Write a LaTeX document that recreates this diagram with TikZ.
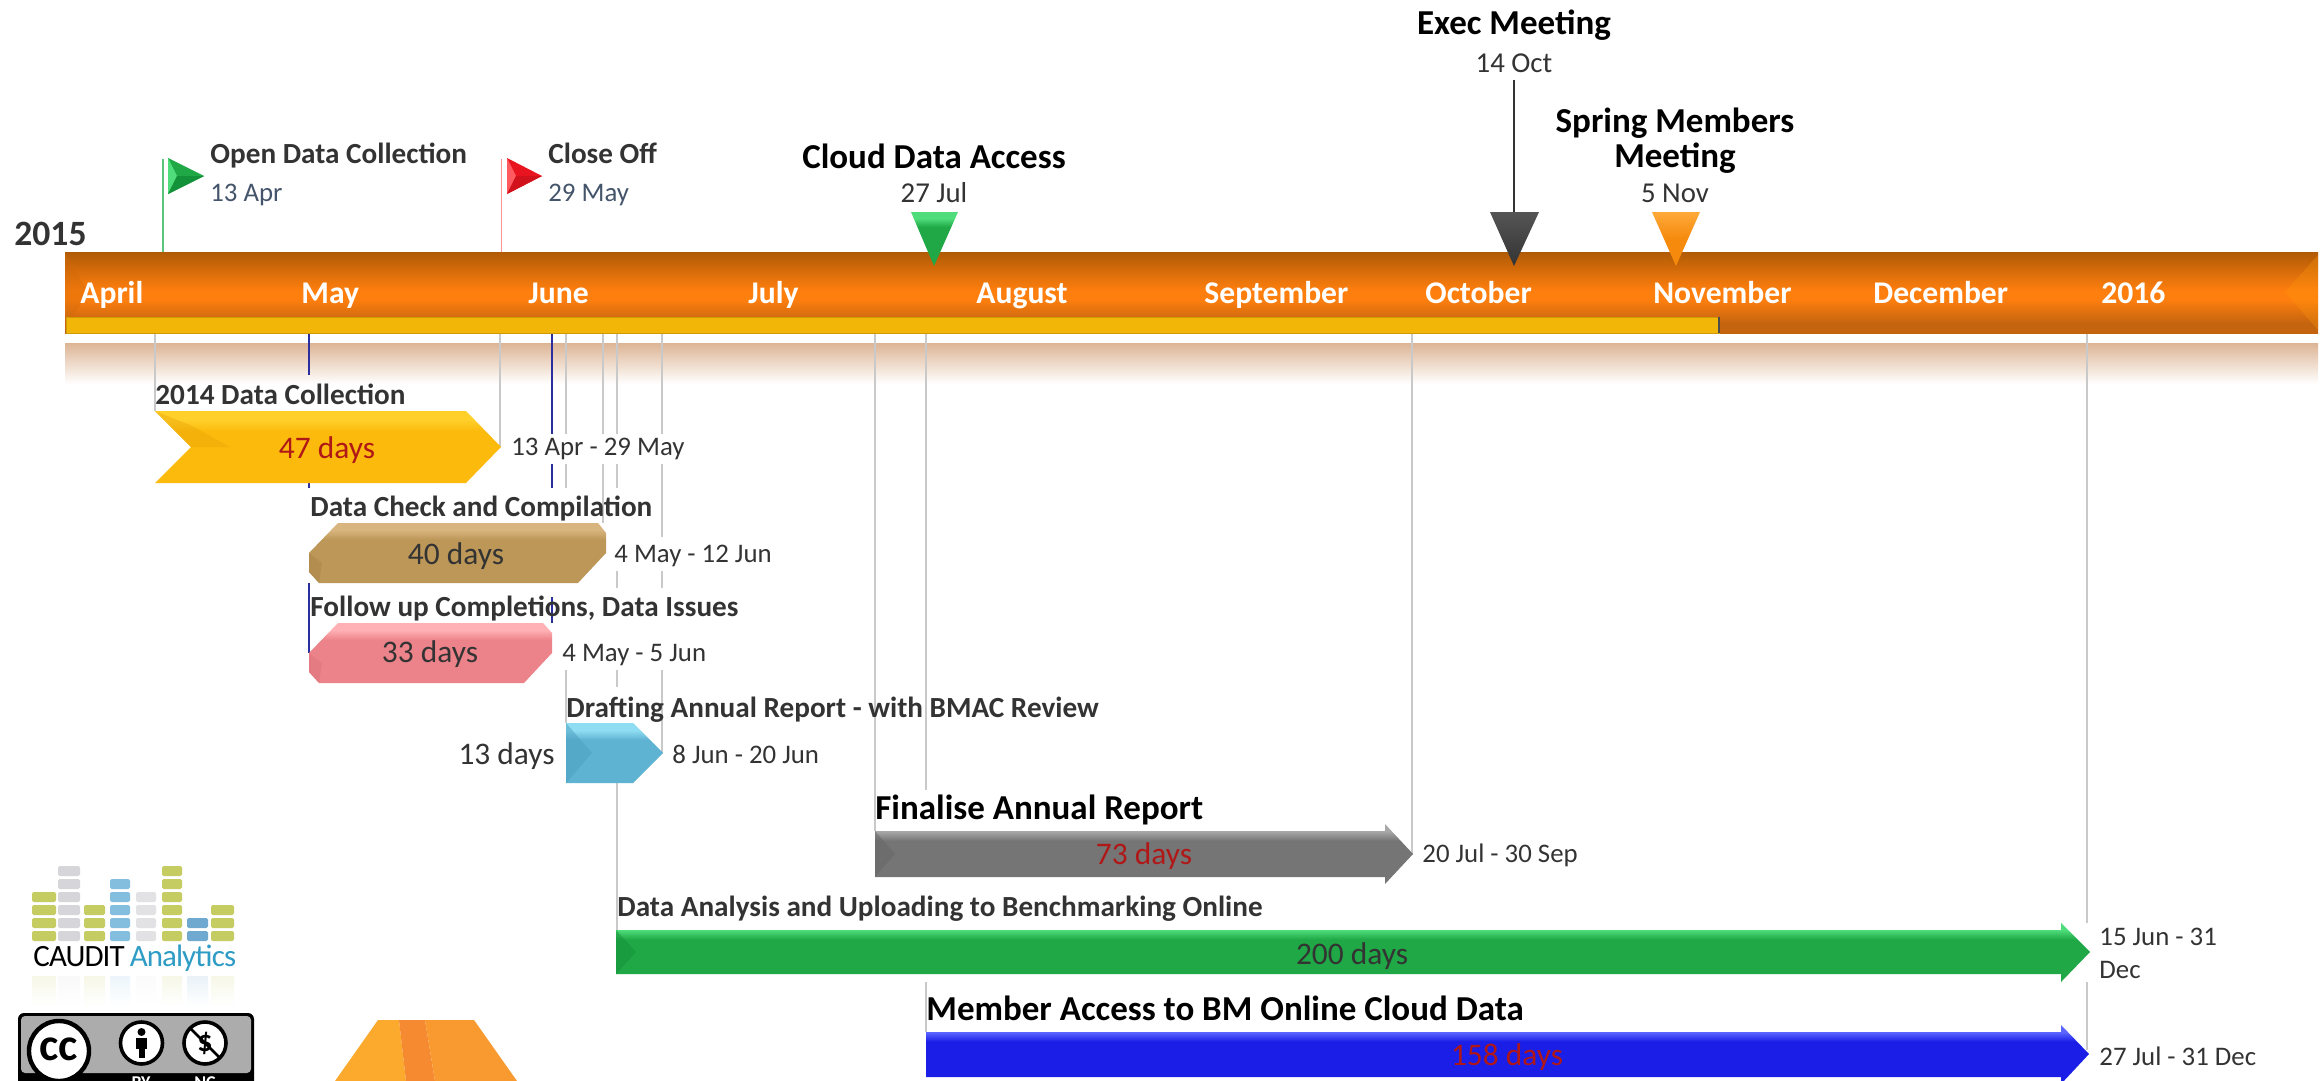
\documentclass[tikz,border=0pt]{standalone}
\usepackage{fontspec}
\setmainfont{Carlito}
\usetikzlibrary{calc}
\definecolor{ink}{HTML}{333333}
\definecolor{slate}{HTML}{44546A}
\definecolor{redtxt}{HTML}{B01818}
\definecolor{gridl}{HTML}{C9C9C9}
\definecolor{bluel}{HTML}{2B2F9E}
\definecolor{reflc}{HTML}{DDB595}
\definecolor{barT}{HTML}{B05A06}
\definecolor{barM}{HTML}{FF7F0E}
\definecolor{barB}{HTML}{C4640F}
\definecolor{strip}{HTML}{F2B608}
\definecolor{oliveb}{HTML}{C5CC62}
\definecolor{greyb}{HTML}{D6D6DA}
\definecolor{blueb}{HTML}{84BEDF}
\definecolor{lgreyb}{HTML}{E2E2E4}
\definecolor{dblueb}{HTML}{6FA9D0}
\definecolor{tealc}{HTML}{2E9CC4}
\definecolor{gL}{HTML}{4FDC7A}\definecolor{gM}{HTML}{1FA845}\definecolor{gD}{HTML}{14923A}
\definecolor{rL}{HTML}{FF5A5F}\definecolor{rM}{HTML}{E8141F}
\definecolor{yT}{HTML}{FFD02A}\definecolor{yM}{HTML}{FBBA0C}\definecolor{yD}{HTML}{E9A408}
\definecolor{brT}{HTML}{D8B47E}\definecolor{brM}{HTML}{BC9758}\definecolor{brD}{HTML}{A98548}
\definecolor{pkT}{HTML}{FFB0B4}\definecolor{pkM}{HTML}{EC838A}\definecolor{pkD}{HTML}{DD747B}
\definecolor{cyT}{HTML}{8FDDF2}\definecolor{cyM}{HTML}{5FB3D2}\definecolor{cyD}{HTML}{4B9FC0}
\definecolor{grT}{HTML}{A8A8A8}\definecolor{grM}{HTML}{757575}\definecolor{grD}{HTML}{666666}
\definecolor{nvT}{HTML}{5A66FF}\definecolor{nvM}{HTML}{1A1EE6}\definecolor{nvD}{HTML}{1212C8}
\definecolor{oT}{HTML}{FFA93A}\definecolor{oM}{HTML}{F58A0C}
\definecolor{kT}{HTML}{555555}\definecolor{kM}{HTML}{333333}
\definecolor{stA}{HTML}{FBAA2E}\definecolor{stB}{HTML}{F58A30}\definecolor{stC}{HTML}{F89A30}
\newcommand{\bandshade}[3]{\pgfdeclareverticalshading{#1}{100bp}{color(0bp)=(#3); color(25bp)=(#3); color(61bp)=(#3); color(69bp)=(#2); color(75bp)=(#2); color(100bp)=(#2)}}
\bandshade{sYel}{yT}{yM}
\bandshade{sBrn}{brT}{brM}
\bandshade{sPnk}{pkT}{pkM}
\bandshade{sCyn}{cyT}{cyM}
\bandshade{sGry}{grT}{grM}
\bandshade{sGrn}{gL}{gM}
\bandshade{sNvy}{nvT}{nvM}
\pgfdeclareverticalshading{sBar}{100bp}{color(0bp)=(barB); color(25bp)=(barB); color(31bp)=(barB); color(46bp)=(barM); color(51bp)=(barM); color(75bp)=(barT); color(100bp)=(barT)}
\pgfdeclareverticalshading{sRefl}{100bp}{color(0bp)=(white); color(25bp)=(white); color(75bp)=(reflc); color(100bp)=(reflc)}
\tikzset{
  tb/.style={text height=0.72em,text depth=0.22em,yshift=-2.2pt},
  head/.style={font=\fontsize{14.6}{16}\selectfont\bfseries,text=ink,anchor=west,inner sep=0pt,tb},
  bighead/.style={font=\fontsize{17.5}{19}\selectfont\bfseries,text=black,anchor=west,inner sep=0pt,tb},
  ctrhead/.style={font=\fontsize{17.5}{17.5}\selectfont\bfseries,text=black,inner sep=0pt,align=center},
  datel/.style={font=\fontsize{13.4}{16.5}\selectfont,text=ink,anchor=west,inner sep=2pt,fill=white,align=left},
  flagdate/.style={font=\fontsize{13.4}{15}\selectfont,text=slate,anchor=west,inner sep=0pt,tb},
  ctrdate/.style={font=\fontsize{14.4}{16}\selectfont,text=ink,inner sep=0pt,tb},
  dur/.style={font=\fontsize{15.7}{17}\selectfont,text=ink,inner sep=0pt,tb},
  month/.style={font=\fontsize{15.8}{17}\selectfont\bfseries,text=white,anchor=base west,inner sep=0pt},
  gl/.style={draw=gridl,line width=0.6pt},
  bl/.style={draw=bluel,line width=0.6pt},
}
\newcommand{\blockcol}[4]{%
  \foreach \r in {1,...,#3}{
    \fill[#4,rounded corners=0.8pt] (#1,{944-13*\r}) rectangle (#2,{954-13*\r});
  }
  \shade[top color=#4!15,bottom color=white] (#1,976) rectangle (#2,1006);
}
\begin{document}
\begin{tikzpicture}[x=0.5pt,y=-0.5pt]
\useasboundingbox (0,0) rectangle (2323,1081);
\clip (0,0) rectangle (2323,1081);
\fill[white] (0,0) rectangle (2323,1081);
% reflection under the timeline
\shade[shading=sRefl] (65,343) rectangle (2318,384);
% grid lines
\coordinate (gA) at (155,333); \coordinate (gB) at (500,333); \coordinate (gC) at (566,333);
\coordinate (gDd) at (603,333); \coordinate (gE) at (617,333); \coordinate (gF) at (662,333);
\coordinate (gG) at (875,333); \coordinate (gH) at (926,333); \coordinate (gI) at (1412,333);
\coordinate (gJ) at (2087,333); \coordinate (gK) at (309,333); \coordinate (gLl) at (552,333);
\draw[gl] (gA) -- ++(0,78);
\draw[gl] (gB) -- ++(0,114);
\draw[gl] (gC) -- ++(0,155) (566,670) -- (566,723);
\draw[gl] (gDd) -- ++(0,190);
\draw[gl] (gE) -- ++(0,155) (617,570) -- (617,588) (617,670) -- (617,687) (617,783) -- (617,930);
\draw[gl] (gF) -- ++(0,204) (662,570) -- (662,588) (662,670) -- (662,753);
\draw[gl] (gG) -- ++(0,498);
\draw[gl] (gH) -- ++(0,457) (926,982) -- (926,1032);
\draw[gl] (gI) -- ++(0,522);
\draw[gl] (gJ) -- ++(0,590) (2087,982) -- (2087,1050);
\draw[bl] (gK) -- ++(0,42) (309,483) -- (309,488) (309,583) -- (309,653);
\draw[bl] (gLl) -- ++(0,155) (552,597) -- (552,623);
% timeline bar
\shade[shading=sBar] (65,252) rectangle (2318,333);
\fill[barT!60!barM,opacity=.35] (65,252) -- (88,292) -- (65,330) -- cycle;
\fill[barM!80!yellow,opacity=.3] (2318,255) -- (2285,292) -- (2318,330) -- cycle;
\fill[strip,draw=strip!85!black,line width=0.5pt] (66,317) rectangle (1719,333);
\draw[black!70,line width=0.7pt] (1719,317) -- (1719,333);
% year and months
\node[font=\fontsize{17.8}{19}\selectfont\bfseries,text=ink,anchor=west,inner sep=0pt] (yr) at (14,234) {2015};
\node[month] (mApr) at (80,303) {April};
\node[month] (mMay) at (301,303) {May};
\node[month] (mJun) at (528,303) {June};
\node[month] (mJul) at (748,303) {July};
\node[month] (mAug) at (976,303) {August};
\node[month] (mSep) at (1204,303) {September};
\node[month] (mOct) at (1425,303) {October};
\node[month] (mNov) at (1653,303) {November};
\node[month] (mDec) at (1873,303) {December};
\node[month] (mNext) at (2101,303) {2016};
% flags
\coordinate (poleG) at (163,159); \coordinate (poleR) at (501.5,159);
\draw[draw=gL!75!gray,line width=0.6pt] (poleG) -- (163,252);
\draw[draw=rL!65!white,line width=0.6pt] (poleR) -- (501.5,252);
\fill[gM] (168,158) -- (204,176) -- (168,194) -- cycle;
\fill[gL] (168,158) -- (177,176) -- (168,194) -- cycle;
\fill[gD] (177,176) -- (204,176) -- (168,194) -- cycle;
\fill[rM] (507,158) -- (542,176) -- (507,194) -- cycle;
\fill[rL] (507,158) -- (516,176) -- (507,194) -- cycle;
\fill[rM!90!black] (516,176) -- (542,176) -- (507,194) -- cycle;
\node[head] (tOpen) at (210,154) {Open Data Collection};
\node[flagdate] (dOpen) at (210,192) {13 Apr};
\node[head] (tClose) at (548,154) {Close Off};
\node[flagdate] (dClose) at (548,192) {29 May};
% milestone markers
\node[ctrhead,tb] (tCloud) at (934,159) {Cloud Data Access};
\node[ctrdate] (dCloud) at (934,193) {27 Jul};
\shade[shading=sGrn] (911,212) -- (958,212) -- (934,266) -- cycle;
\node[ctrhead,tb] (tExec) at (1514,25) {Exec Meeting};
\node[ctrdate] (dExec) at (1514,63) {14 Oct};
\coordinate (execTop) at (1514,80); \coordinate (execTip) at (1514,266);
\draw[black!80,line width=0.7pt] (execTop) -- (1514,212);
\shade[top color=kT,bottom color=kM] (1490,212) -- (1539,212) -- (execTip) -- cycle;
\node[ctrhead] (tSpring) at (1675,141) {Spring Members\\Meeting};
\node[ctrdate] (dSpring) at (1675,193) {5 Nov};
\shade[top color=oT,bottom color=oM,middle color=oM] (1652,212) -- (1700,212) -- (1676,266) -- cycle;
% task 1: yellow chevron
\shade[shading=sYel] (155,411) -- (466,411) -- (501,447) -- (466,483) -- (155,483) -- (191,447) -- cycle;
\fill[yD,opacity=.4] (155,411) -- (191,447) -- (230,447) -- (190,425) -- cycle;
\node[head] (t1) at (155,395) {2014 Data Collection};
\node[dur,text=redtxt] (n1) at (327,449) {47 days};
\node[datel] (d1) at (507,449) {13 Apr - 29 May};
% task 2: brown
\shade[shading=sBrn] (338,523) -- (598,523) -- (606,533) -- (606,553) -- (578,583) -- (319,583) -- (309,572) -- (309,553) -- cycle;
\fill[brD,opacity=.5] (309,553) -- (322,563) -- (319,583) -- (309,572) -- cycle;
\node[head] (t2) at (310,507) {Data Check and Compilation};
\node[dur] (n2) at (456,555) {40 days};
\node[datel] (d2) at (610,556) {4 May - 12 Jun};
% task 3: pink
\shade[shading=sPnk] (338,623) -- (543,623) -- (552,633) -- (552,653) -- (524,683) -- (319,683) -- (309,672) -- (309,653) -- cycle;
\fill[pkD,opacity=.5] (309,653) -- (322,663) -- (319,683) -- (309,672) -- cycle;
\node[head] (t3) at (310,607) {Follow up Completions, Data Issues};
\node[dur] (n3) at (430,653) {33 days};
\node[datel] (d3) at (558,655) {4 May - 5 Jun};
% task 4: cyan
\shade[shading=sCyn] (566,723) -- (633,723) -- (663,753) -- (633,783) -- (566,783) -- cycle;
\fill[cyD,opacity=.5] (566,723) -- (592,753) -- (566,783) -- cycle;
\node[head] (t4) at (566,708) {Drafting Annual Report - with BMAC Review};
\node[dur,anchor=east] (n4) at (555,755) {13 days};
\node[datel] (d4) at (668,754) {8 Jun - 20 Jun};
% task 5: grey arrow
\shade[shading=sGry] (875,831) -- (1385,831) -- (1385,824) -- (1413,854) -- (1385,884) -- (1385,877) -- (875,877) -- cycle;
\fill[grD,opacity=.5] (875,831) -- (895,854) -- (875,877) -- cycle;
\node[bighead] (t5) at (875,810) {Finalise Annual Report};
\node[dur,text=redtxt] (n5) at (1144,855) {73 days};
\node[datel] (d5) at (1418,855) {20 Jul - 30 Sep};
% task 6: green arrow
\shade[shading=sGrn] (616,930) -- (2061,930) -- (2061,923) -- (2090,952) -- (2061,982) -- (2061,974) -- (616,974) -- cycle;
\fill[gD,opacity=.5] (616,930) -- (636,952) -- (616,974) -- cycle;
\node[head] (t6) at (617,907) {Data Analysis and Uploading to Benchmarking Online};
\node[dur] (n6) at (1352,955) {200 days};
\node[datel,anchor=north west,inner sep=0pt] (d6) at (2099,928) {15 Jun - 31\\Dec};
% task 7: blue arrow
\shade[shading=sNvy] (926,1032) -- (2061,1032) -- (2061,1025) -- (2089,1054) -- (2061,1084) -- (2061,1077) -- (926,1077) -- cycle;
\node[bighead] (t7) at (926,1011) {Member Access to BM Online Cloud Data};
\node[dur,text=redtxt] (n7) at (1507,1056) {158 days};
\node[datel] (d7) at (2095,1056) {27 Jul - 31 Dec};
% CAUDIT logo
\blockcol{32}{56}{4}{oliveb}
\blockcol{58}{80}{6}{greyb}
\blockcol{84}{105}{3}{oliveb}
\blockcol{110}{130}{5}{blueb}
\blockcol{136}{156}{4}{lgreyb}
\blockcol{162}{182}{6}{oliveb}
\blockcol{187}{208}{2}{dblueb}
\blockcol{211}{234}{3}{oliveb}
\node[font=\fontsize{15.5}{17}\selectfont,anchor=west,inner sep=0pt] (logo) at (33,958) {\addfontfeatures{LetterSpace=-3}CAUDIT\,\textcolor{tealc}{Analytics}};
% CC badge
\fill[black,rounded corners=3pt] (18,1013) rectangle (254,1090);
\fill[gray!65,rounded corners=2pt] (21,1016) rectangle (251,1073);
\fill[white,draw=black,line width=2.2pt] (59,1051) circle[radius=30];
\node[font=\fontsize{23}{24}\selectfont\bfseries,text=black,inner sep=0pt] (cc) at (59,1049) {cc};
\fill[white,draw=black,line width=1.8pt] (141.5,1043) circle[radius=21];
\fill[black] (141.5,1032) circle[radius=4];
\fill[black] (136,1038) rectangle (147,1049);
\fill[black] (138.5,1049) rectangle (144.5,1058);
\fill[white,draw=black,line width=1.8pt] (205,1043) circle[radius=21];
\node[font=\fontsize{15}{16}\selectfont\bfseries,text=black,inner sep=0pt] (dollar) at (205,1043) {\$};
\coordinate (ncA) at (190,1028); \coordinate (ncB) at (220,1058);
\draw[black,line width=1.4pt] (ncA) -- (ncB);
\node[font=\fontsize{9}{10}\selectfont\bfseries,text=white,inner sep=0pt] (by) at (141,1083) {BY};
\node[font=\fontsize{9}{10}\selectfont\bfseries,text=white,inner sep=0pt] (nc) at (205,1083) {NC};
% orange shape at the bottom
\fill[stA] (378,1020) -- (399,1020) -- (406,1081) -- (335,1081) -- cycle;
\fill[stB] (399,1020) -- (425,1020) -- (435,1081) -- (406,1081) -- cycle;
\fill[stC] (425,1020) -- (474,1020) -- (517,1081) -- (435,1081) -- cycle;
\end{tikzpicture}
\end{document}
